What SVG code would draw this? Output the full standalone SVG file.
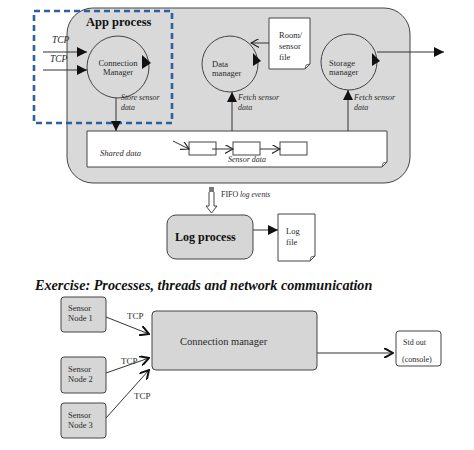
<svg xmlns="http://www.w3.org/2000/svg" width="474" height="450" viewBox="0 0 474 450">
<defs>
<marker id="fill" viewBox="0 0 10 10" refX="10" refY="5" markerWidth="13" markerHeight="10" markerUnits="userSpaceOnUse" orient="auto"><path d="M0,0 L10,5 L0,10 Z" fill="#111"/></marker>
<marker id="open" viewBox="0 0 10 10" refX="9" refY="5" markerWidth="9" markerHeight="9" markerUnits="userSpaceOnUse" orient="auto"><path d="M0,0 L9,5 L0,10" fill="none" stroke="#222" stroke-width="1.3"/></marker>
<marker id="openb" viewBox="0 0 10 10" refX="9" refY="5" markerWidth="10" markerHeight="10" markerUnits="userSpaceOnUse" orient="auto"><path d="M0,0 L9,5 L0,10" fill="none" stroke="#111" stroke-width="2"/></marker>
</defs>
<style>
text{font-family:'Liberation Serif','DejaVu Serif',serif;fill:#2a2a2a}
.it{font-style:italic}
.b{font-weight:bold;fill:#111}
.ln{stroke:#333;stroke-width:1;fill:none}
.circ{fill:none;stroke:#444;stroke-width:1}
.doc{fill:#fff;stroke:#444;stroke-width:1}
.box{fill:#fff;stroke:#444;stroke-width:1}
.gray{fill:#d6d6d6;stroke:#444;stroke-width:1}
</style>
<rect width="474" height="450" fill="#fff"/>

<g id="app-process">
<rect x="67" y="8" width="343" height="175" rx="26" fill="#d9d9d9" stroke="#444" stroke-width="1"/>
<text x="86" y="26" class="b" font-size="12.5">App process</text>
</g>

<g id="highlight">
<rect x="34" y="11" width="138" height="112" fill="none" stroke="#2f5f9e" stroke-width="2.6" stroke-dasharray="6,4"/>
</g>

<g id="shared-data">
<path d="M87,131 H387 V162 L382,167 H87 Z" fill="#fff" stroke="#444"/>
<path d="M382,167 L383,163 L387,162" fill="none" stroke="#444" stroke-width="0.8"/>
<text x="100" y="156" class="it" font-size="8.5">Shared data</text>
<rect x="189" y="142" width="27" height="13" class="box"/>
<rect x="233" y="142" width="27" height="13" class="box"/>
<rect x="280" y="142" width="27" height="13" class="box"/>
<text x="228" y="162" class="it" font-size="8">Sensor data</text>
</g>

<g id="connection-manager">
<circle cx="118" cy="67" r="31" class="circ"/>
<polygon points="142,55 151,63 142,69" fill="#111"/>
<text x="118" y="66" font-size="8.5" text-anchor="middle">Connection</text>
<text x="118" y="75" font-size="8.5" text-anchor="middle">Manager</text>
</g>

<g id="data-manager">
<circle cx="230" cy="64" r="28" class="circ"/>
<polygon points="253,53 261,61 253,66" fill="#111"/>
<text x="212" y="67" font-size="8.5">Data</text>
<text x="212" y="76" font-size="8.5">manager</text>
</g>

<g id="storage-manager">
<circle cx="349" cy="62" r="28" class="circ"/>
<polygon points="372,53 380,61 372,66" fill="#111"/>
<text x="329" y="66" font-size="8.5">Storage</text>
<text x="329" y="75" font-size="8.5">manager</text>
</g>

<g id="room-sensor-file">
<path d="M269,18 H310 V64 L305,69 H269 Z" class="doc"/>
<path d="M305,69 L306,65 L310,64" fill="none" stroke="#444" stroke-width="0.8"/>
<text x="279" y="38" font-size="8.5">Room/</text>
<text x="279" y="49" font-size="8.5">sensor</text>
<text x="279" y="60" font-size="8.5">file</text>
</g>

<g id="log-process">
<rect x="167" y="215" width="86" height="44" rx="9" class="gray"/>
<text x="175" y="241" class="b" font-size="12">Log process</text>
</g>

<g id="log-file">
<path d="M278,214 H315 V256 L310,261 H278 Z" class="doc"/>
<path d="M310,261 L311,257 L315,256" fill="none" stroke="#444" stroke-width="0.8"/>
<text x="286" y="234" font-size="8.5">Log</text>
<text x="286" y="245" font-size="8.5">file</text>
</g>

<g id="fifo">
<path d="M209,192 V206 H206 L211.5,213 L217,206 H214 V192" fill="#fff" stroke="#444" stroke-width="1"/>
<rect x="209" y="187" width="5" height="5" fill="#777"/>
<text x="221" y="197" font-size="8">FIFO</text>
<text x="240" y="197" class="it" font-size="7.5">log events</text>
</g>

<g id="title">
<text x="35" y="290" class="b it" font-size="14.2">Exercise: Processes, threads and network communication</text>
</g>

<g id="sensor-node-1">
<rect x="61" y="297" width="45" height="35" rx="3" class="gray"/>
<text x="68" y="311" font-size="8.5">Sensor</text>
<text x="68" y="321" font-size="8.5">Node 1</text>
</g>
<g id="sensor-node-2">
<rect x="61" y="357" width="45" height="36" rx="3" class="gray"/>
<text x="68" y="372" font-size="8.5">Sensor</text>
<text x="68" y="382" font-size="8.5">Node 2</text>
</g>
<g id="sensor-node-3">
<rect x="61" y="403" width="45" height="35" rx="3" class="gray"/>
<text x="68" y="418" font-size="8.5">Sensor</text>
<text x="68" y="428" font-size="8.5">Node 3</text>
</g>
<g id="connection-manager-2">
<rect x="152" y="311" width="165" height="59" rx="4" class="gray"/>
<text x="180" y="345" font-size="10.5">Connection manager</text>
</g>
<g id="std-out">
<rect x="396" y="331" width="45" height="35" rx="3" class="box"/>
<text x="403" y="345" font-size="8">Std out</text>
<text x="402" y="362" font-size="8">(console)</text>
</g>

<g id="connectors">
<line x1="43" y1="52" x2="87" y2="52" class="ln" marker-end="url(#fill)"/>
<line x1="43" y1="70" x2="87" y2="70" class="ln" marker-end="url(#fill)"/>
<text x="52" y="43" class="it" font-size="9.5">TCP</text>
<text x="50" y="62" class="it" font-size="9.5">TCP</text>
<line x1="116" y1="98" x2="116" y2="131" class="ln" marker-end="url(#fill)"/>
<text x="121" y="100" class="it" font-size="7.8">Store sensor</text>
<text x="121" y="110" class="it" font-size="7.8">data</text>
<line x1="232" y1="131" x2="232" y2="92" class="ln" marker-end="url(#fill)"/>
<text x="238" y="100" class="it" font-size="8">Fetch sensor</text>
<text x="238" y="110" class="it" font-size="8">data</text>
<line x1="348" y1="131" x2="348" y2="90" class="ln" marker-end="url(#fill)"/>
<text x="354" y="100" class="it" font-size="8">Fetch sensor</text>
<text x="354" y="110" class="it" font-size="8">data</text>
<line x1="269" y1="43" x2="251" y2="43" class="ln" marker-end="url(#open)"/>
<line x1="377" y1="52" x2="444" y2="52" class="ln" marker-end="url(#fill)"/>
<line x1="173" y1="141" x2="189" y2="149" class="ln" marker-end="url(#open)"/>
<line x1="212" y1="149" x2="233" y2="149" class="ln" marker-end="url(#open)"/>
<line x1="260" y1="149" x2="280" y2="149" class="ln" marker-end="url(#open)"/>
<line x1="253" y1="230" x2="278" y2="230" class="ln" marker-end="url(#fill)"/>
<line x1="106" y1="317" x2="149" y2="334" class="ln" marker-end="url(#openb)"/>
<line x1="106" y1="373" x2="149" y2="358" class="ln" marker-end="url(#openb)"/>
<line x1="106" y1="418" x2="149" y2="370" class="ln" marker-end="url(#openb)"/>
<text x="127" y="319" font-size="9">TCP</text>
<text x="121" y="364" font-size="9">TCP</text>
<text x="134" y="399" font-size="9">TCP</text>
<line x1="317" y1="353" x2="393" y2="353" class="ln" marker-end="url(#openb)"/>
</g>
</svg>
